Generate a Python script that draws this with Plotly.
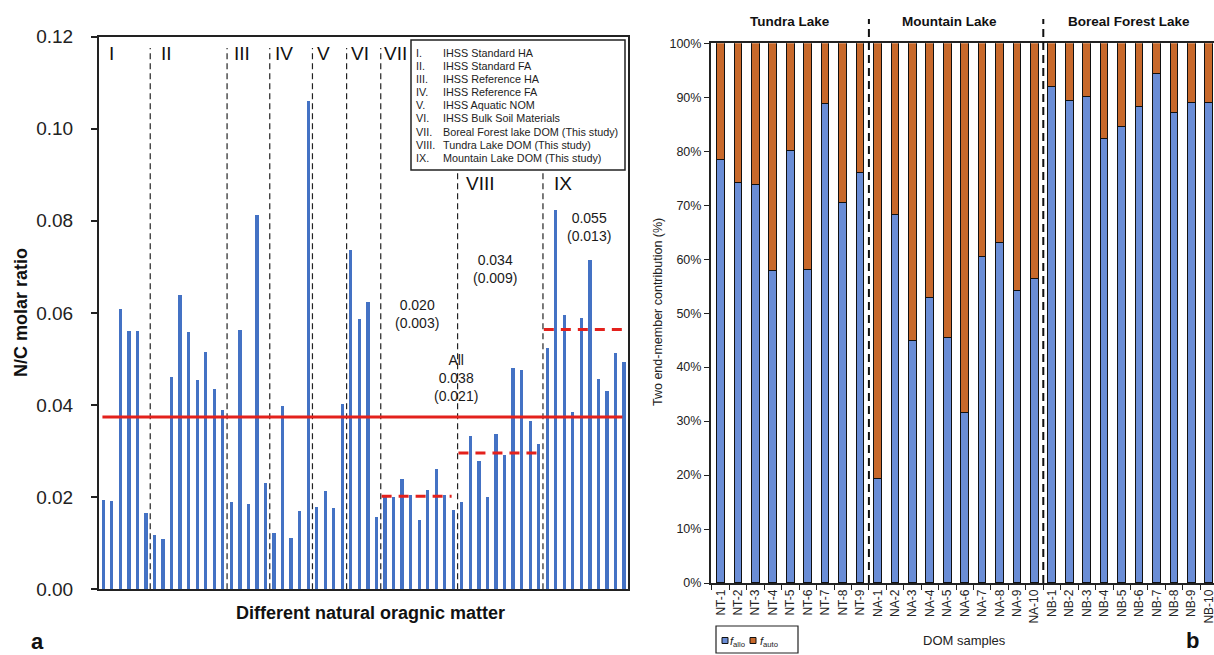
import plotly.graph_objects as go

W, H = 1214, 655
FONT = "Liberation Sans, Arial, sans-serif"

# ---------------- Panel a: N/C molar ratio ----------------
group_labels = ["I", "II", "III", "IV", "V", "VI", "VII", "VIII", "IX"]
legend_numerals = ["I.", "II.", "III.", "IV.", "V.", "VI.", "VII.", "VIII.", "IX."]
group_names = [
    "IHSS Standard HA",
    "IHSS Standard FA",
    "IHSS Reference HA",
    "IHSS Reference FA",
    "IHSS Aquatic NOM",
    "IHSS Bulk Soil Materials",
    "Boreal Forest lake DOM (This study)",
    "Tundra Lake DOM (This study)",
    "Mountain Lake DOM (This study)",
]
nc_I = [0.0196, 0.0192, 0.0610, 0.0561, 0.0561, 0.0166]
nc_II = [0.0120, 0.0111, 0.0461, 0.0641, 0.0559, 0.0455, 0.0517, 0.0435, 0.0390]
nc_III = [0.0191, 0.0564, 0.0187, 0.0813, 0.0231]
nc_IV = [0.0123, 0.0399, 0.0113, 0.0171, 0.1061]
nc_V = [0.0179, 0.0215, 0.0178, 0.0404]
nc_VI = [0.0738, 0.0587, 0.0625, 0.0157]
nc_VII = [0.0201, 0.0201, 0.0241, 0.0206, 0.0152, 0.0217, 0.0262, 0.0206, 0.0174]
nc_VIII = [0.0191, 0.0333, 0.0280, 0.0202, 0.0338, 0.0293, 0.0481, 0.0477, 0.0366, 0.0317]
nc_IX = [0.0524, 0.0825, 0.0597, 0.0387, 0.0591, 0.0716, 0.0458, 0.0432, 0.0514, 0.0495]
nc_groups = [nc_I, nc_II, nc_III, nc_IV, nc_V, nc_VI, nc_VII, nc_VIII, nc_IX]

mean_all = 0.0374
mean_all_text = "All<br>0.038<br>(0.021)"
study_groups = [6, 7, 8]            # indices of VII, VIII, IX
study_means = [0.0202, 0.0296, 0.0564]
study_text = ["0.020<br>(0.003)", "0.034<br>(0.009)", "0.055<br>(0.013)"]

# ---------------- Panel b: two end-member contributions ----------------
samples_NT = ["NT-1", "NT-2", "NT-3", "NT-4", "NT-5", "NT-6", "NT-7", "NT-8", "NT-9"]
samples_NA = ["NA-1", "NA-2", "NA-3", "NA-4", "NA-5", "NA-6", "NA-7", "NA-8", "NA-9", "NA-10"]
samples_NB = ["NB-1", "NB-2", "NB-3", "NB-4", "NB-5", "NB-6", "NB-7", "NB-8", "NB-9", "NB-10"]
f_allo_NT = [78.3, 74.0, 73.6, 57.7, 80.0, 57.9, 88.7, 70.3, 76.0]
f_allo_NA = [19.3, 68.2, 44.7, 52.8, 45.4, 31.4, 60.3, 63.0, 54.1, 56.2]
f_allo_NB = [91.8, 89.2, 90.0, 82.2, 84.4, 88.2, 94.2, 87.0, 88.8, 88.8]
lake_names = ["Tundra Lake", "Mountain Lake", "Boreal Forest Lake"]

# ---------------- build ----------------
nc_values = [v for g in nc_groups for v in g]
nc_x = list(range(len(nc_values)))
starts = []
s = 0
for g in nc_groups:
    starts.append(s)
    s += len(g)

samples = samples_NT + samples_NA + samples_NB
f_allo = f_allo_NT + f_allo_NA + f_allo_NB
f_auto = [round(100 - v, 1) for v in f_allo]

BLUE_A = "#4472C4"
BLUE_B = "#6A8DD6"
ORANGE = "#C8692B"
RED = "#E3211C"


def px(xp):
    return xp / W


def py(yp):
    return 1 - yp / H


def note(text, x, y, size, color="#222", xanchor="center", yanchor="middle", **kw):
    return dict(text=text, xref="paper", yref="paper", x=x, y=y, xanchor=xanchor, yanchor=yanchor,
                showarrow=False, borderpad=0, font=dict(family=FONT, size=size, color=color), **kw)


fig = go.Figure()
fig.add_trace(go.Bar(x=nc_x, y=nc_values, width=0.38, marker=dict(color=BLUE_A, line=dict(width=0)),
                     xaxis="x", yaxis="y", showlegend=False))
fig.add_trace(go.Bar(x=samples, y=f_allo, width=0.44, name="f_allo",
                     marker=dict(color=BLUE_B, line=dict(color="#111", width=1)),
                     xaxis="x2", yaxis="y2", showlegend=False))
fig.add_trace(go.Bar(x=samples, y=f_auto, width=0.44, name="f_auto",
                     marker=dict(color=ORANGE, line=dict(color="#111", width=1)),
                     xaxis="x2", yaxis="y2", showlegend=False))

shapes = []
annotations = []

# panel a separators
for st in starts[1:]:
    shapes.append(dict(type="line", xref="x", yref="y", x0=st - 0.5, x1=st - 0.5, y0=0, y1=0.1175,
                       line=dict(color="#222", width=1.2, dash="6px,4px")))
# roman numerals
numeral_x = [0.55, 6.64, 15.24, 20.05, 24.94, 28.92, 32.79, 42.4, 52.68]
numeral_y = [0.1163, 0.1163, 0.1163, 0.1163, 0.1163, 0.1163, 0.1163, 0.0881, 0.0881]
for lab, xx, yy in zip(group_labels, numeral_x, numeral_y):
    annotations.append(dict(text=lab, xref="x", yref="y", x=xx, y=yy, xanchor="left", yanchor="middle",
                            showarrow=False, borderpad=0, font=dict(family=FONT, size=19, color="#111")))
# overall mean line
shapes.append(dict(type="line", xref="x", yref="y", x0=-0.1, x1=len(nc_values) - 1.2, y0=mean_all, y1=mean_all,
                   line=dict(color=RED, width=3)))
annotations.append(dict(text=mean_all_text, xref="x", yref="y", x=41.35, y=0.0458, showarrow=False,
                        xanchor="center", yanchor="middle",
                        font=dict(family=FONT, size=14, color="#1a1a1a")))
# study group mean lines
study_text_pos = [(36.74, 0.0597), (45.92, 0.0695), (56.86, 0.0786)]
for gi, m, t, (tx, ty) in zip(study_groups, study_means, study_text, study_text_pos):
    first = starts[gi]
    last = first + len(nc_groups[gi]) - 1
    shapes.append(dict(type="line", xref="x", yref="y", x0=first - 0.4, x1=last - 0.2, y0=m, y1=m,
                       line=dict(color=RED, width=3, dash="10px,7px")))
    annotations.append(dict(text=t, xref="x", yref="y", x=tx, y=ty, showarrow=False,
                            xanchor="center", yanchor="middle",
                            font=dict(family=FONT, size=14, color="#1a1a1a")))

# panel a legend box
shapes.append(dict(type="rect", xref="paper", yref="paper", x0=px(411), x1=px(625), y0=py(170), y1=py(40),
                   line=dict(color="#222", width=1.5), fillcolor="white", layer="above"))
for i, (num, name) in enumerate(zip(legend_numerals, group_names)):
    yline = 53 + i * 13.1
    annotations.append(note(num, px(415), py(yline), 10.8, xanchor="left"))
    annotations.append(note(name, px(442), py(yline), 10.8, xanchor="left"))

# panel a titles
annotations.append(note("<b>N/C molar ratio</b>", px(21), py(313), 18, color="#111", textangle=-90))
annotations.append(note("<b>Different natural oragnic matter</b>", px(370), py(613), 18, color="#111"))
annotations.append(note("<b>a</b>", px(37), py(641), 22, color="#111"))
annotations.append(note("<b>b</b>", px(1192), py(640), 22, color="#111"))

# panel b separators
b1 = len(samples_NT) - 0.5
b2 = len(samples_NT) + len(samples_NA) - 0.5
for bx in (b1, b2):
    shapes.append(dict(type="line", xref="x2", yref="paper", x0=bx, x1=bx, y0=py(583), y1=py(19),
                       line=dict(color="#111", width=2, dash="8px,5px")))
lake_x = [790, 949, 1129]
for name, lx in zip(lake_names, lake_x):
    annotations.append(note("<b>" + name + "</b>", px(lx), py(21), 13.5, color="#111"))
annotations.append(note("Two end-member contribution (%)", px(658), py(312), 12.5, textangle=-90))
annotations.append(note("DOM samples", px(964), py(640), 13))

# panel b legend (manual)
shapes.append(dict(type="rect", xref="paper", yref="paper", x0=px(716), x1=px(798), y0=py(653), y1=py(626),
                   line=dict(color="#222", width=1.2)))
shapes.append(dict(type="rect", xref="paper", yref="paper", x0=px(722), x1=px(728), y0=py(643.5),
                   y1=py(637.5), fillcolor=BLUE_B, line=dict(color="#111", width=1)))
shapes.append(dict(type="rect", xref="paper", yref="paper", x0=px(750), x1=px(756), y0=py(643.5),
                   y1=py(637.5), fillcolor=ORANGE, line=dict(color="#111", width=1)))
annotations.append(note("<i>f</i><sub>allo</sub>", px(728.5), py(641.5), 11, xanchor="left"))
annotations.append(note("<i>f</i><sub>auto</sub>", px(759), py(641.5), 11, xanchor="left"))

fig.update_layout(
    width=W, height=H,
    margin=dict(l=0, r=0, t=0, b=0, autoexpand=False),
    paper_bgcolor="white", plot_bgcolor="white",
    barmode="stack", bargap=0,
    font=dict(family=FONT, color="#222"),
    shapes=shapes, annotations=annotations,
    xaxis=dict(domain=[px(99), px(627.5)], range=[-0.5, 61.4], showticklabels=False, ticks="",
               automargin=False,
               showgrid=False, zeroline=False, showline=True, linecolor="#222", linewidth=2, mirror=True),
    yaxis=dict(domain=[py(589.3), py(36.5)], range=[0, 0.12], dtick=0.02, tickformat=".2f",
               ticks="outside", ticklen=6, tickwidth=1.5, tickcolor="#222", automargin=False,
               ticklabelstandoff=14,
               tickfont=dict(family=FONT, size=19, color="#222"),
               showgrid=False, zeroline=False, showline=True, linecolor="#222", linewidth=2, mirror=True),
    xaxis2=dict(domain=[px(710.7), 1.0], type="category", range=[-0.573, 28.29], tickangle=-90,
                tickson="boundaries", ticks="outside", ticklen=5, tickcolor="#222", anchor="y2",
                automargin=False,
                tickfont=dict(family=FONT, size=12, color="#222"),
                showgrid=False, zeroline=False, showline=True, linecolor="#222", linewidth=1.5, mirror=True),
    yaxis2=dict(domain=[py(583), py(43.3)], range=[0, 100], dtick=10, ticksuffix="%",
                ticks="outside", ticklen=5, tickcolor="#222", anchor="x2", automargin=False,
                tickfont=dict(family=FONT, size=12.5, color="#222"),
                showgrid=False, zeroline=False, showline=True, linecolor="#222", linewidth=1.5),
)

fig.write_html("out.html", config={"displayModeBar": False},
               post_script="document.body.style.margin='0px';document.body.style.overflow='hidden';")
